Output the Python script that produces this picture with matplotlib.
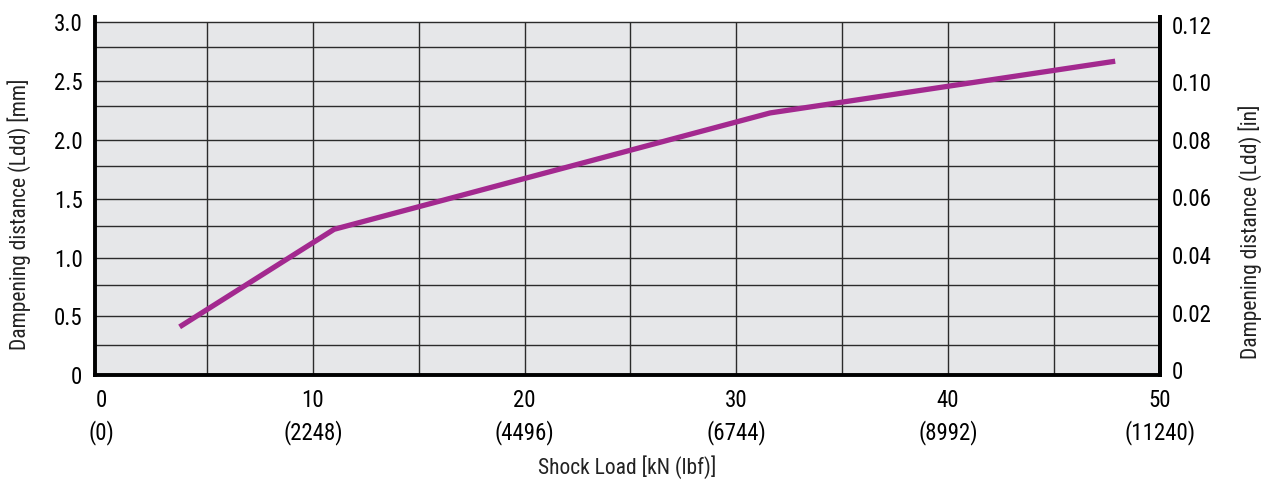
import matplotlib
matplotlib.use("Agg")
import matplotlib.pyplot as plt
from matplotlib import font_manager

# -----------------------------------------------------------------------------
# DATA
# -----------------------------------------------------------------------------
load_kn = [3.7, 11.0, 31.6, 47.9]
distance_mm = [0.41, 1.24, 2.23, 2.67]

x_ticks = [0, 10, 20, 30, 40, 50]
x_tick_lbf = ["(0)", "(2248)", "(4496)", "(6744)", "(8992)", "(11240)"]
x_grid = [5, 10, 15, 20, 25, 30, 35, 40, 45]

mm_ticks = [0, 0.5, 1.0, 1.5, 2.0, 2.5, 3.0]
mm_tick_labels = ["0", "0.5", "1.0", "1.5", "2.0", "2.5", "3.0"]

in_ticks = [0, 0.02, 0.04, 0.06, 0.08, 0.10, 0.12]
in_tick_labels = ["0", "0.02", "0.04", "0.06", "0.08", "0.10", "0.12"]
in_minor = [0.01, 0.03, 0.05, 0.07, 0.09, 0.11]
MM_PER_IN = 25.4

# -----------------------------------------------------------------------------
# FONT: pick a narrow family if one is installed
# -----------------------------------------------------------------------------
installed = {f.name for f in font_manager.fontManager.ttflist}
families = [f for f in ["Liberation Sans Narrow", "Roboto Condensed", "Roboto", "DejaVu Sans"]
            if f in installed]
plt.rcParams["font.family"] = families or ["DejaVu Sans"]

BG = "#e6e7e9"
LINE = "#a3298f"
GRID = "#2b2b2b"

fig = plt.figure(figsize=(12.66, 4.79), dpi=100)
ax = fig.add_axes([0.075, 0.217, 0.841, 0.748])
ax.set_facecolor("white")

ax.set_xlim(-0.3, 50)
ax.set_ylim(0, 3.048)

# grey plotting field stops at the 3.0 mm line
ax.axhspan(0, 3.0, color=BG, zorder=0)

# grid: mm major lines + odd-hundredth inch lines + vertical 5 kN lines
ax.hlines(mm_ticks[1:], -0.3, 50, color=GRID, lw=1.0, zorder=1)
ax.hlines([v * MM_PER_IN for v in in_minor], -0.3, 50, color=GRID, lw=1.0, zorder=1)
ax.vlines(x_grid, 0, 3.0, color=GRID, lw=1.0, zorder=1)

ax.plot(load_kn, distance_mm, color=LINE, lw=3.8, solid_capstyle="butt", zorder=3)

for side in ["left", "bottom", "right"]:
    ax.spines[side].set_linewidth(2.8)
    ax.spines[side].set_color("black")
ax.spines["top"].set_visible(False)

ax.set_yticks(mm_ticks)
ax.set_yticklabels(mm_tick_labels)
ax.set_xticks(x_ticks)
ax.set_xticklabels([f"{k}\n{l}" for k, l in zip(x_ticks, x_tick_lbf)], linespacing=1.42)
ax.tick_params(axis="both", length=0, labelsize=16.5)
ax.tick_params(axis="y", pad=9)
ax.tick_params(axis="x", pad=10)

ax.set_ylabel("Dampening distance (Ldd) [mm]", fontsize=15.5, color="#222222")
ax.yaxis.set_label_coords(-0.06, 0.45)
ax.set_xlabel("Shock Load [kN (lbf)]", fontsize=15.5, color="#222222")
ax.xaxis.set_label_coords(0.5, -0.225)

# right axis in inches
ax2 = ax.twinx()
ax2.set_ylim(-0.0017, 0.1228)
ax2.set_yticks(in_ticks)
ax2.set_yticklabels(in_tick_labels)
ax2.tick_params(axis="y", length=0, labelsize=16.5, pad=9)
for side in ["left", "bottom", "top"]:
    ax2.spines[side].set_visible(False)
ax2.spines["right"].set_linewidth(2.8)
ax2.set_ylabel("Dampening distance (Ldd) [in]", fontsize=15.5, color="#222222")
ax2.yaxis.set_label_coords(1.074, 0.4)

fig.savefig("out.png", dpi=100)
